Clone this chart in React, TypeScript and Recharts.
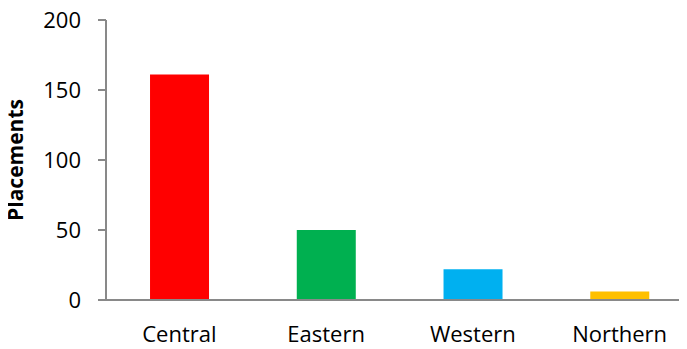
import { Bar, BarChart, Cell, XAxis, YAxis } from "recharts";

const regions = ["Central", "Eastern", "Western", "Northern"];
const placements = [161, 50, 22, 6];
const barColors = ["#FF0000", "#00B050", "#00B0F0", "#FFC000"];
const yTicks = [0, 50, 100, 150, 200];

const data = regions.map((name, i) => ({ name, value: placements[i] }));

const font = "'Open Sans', sans-serif";
const axisColor = "#898989";

function YLabel() {
  return (
    <text
      x={23}
      y={160}
      transform="rotate(-90, 23, 160)"
      textAnchor="middle"
      fontFamily={font}
      fontSize={21}
      fontWeight="bold"
      fill="#000"
    >
      Placements
    </text>
  );
}

export default function App() {
  return (
    <div style={{ margin: "-8px 0 0 -8px", width: 687, height: 349, overflow: "hidden", background: "#fff" }}>
      <BarChart
        width={700}
        height={349}
        data={data}
        margin={{ top: 20, right: 7, bottom: 0, left: 0 }}
        barCategoryGap="30%"
      >
        <XAxis
          dataKey="name"
          height={49}
          stroke={axisColor}
          strokeWidth={2}
          tickLine={false}
          tickSize={0}
          tickMargin={26}
          tick={{ fill: "#000", fontFamily: font, fontSize: 22 }}
        />
        <YAxis
          width={106}
          domain={[0, 200]}
          ticks={yTicks}
          interval={0}
          stroke={axisColor}
          strokeWidth={2}
          tickSize={8}
          tickMargin={17}
          tick={{ fill: "#000", fontFamily: font, fontSize: 22 }}
          label={<YLabel />}
        />
        <Bar dataKey="value" isAnimationActive={false}>
          {data.map((d, i) => (
            <Cell key={d.name} fill={barColors[i]} />
          ))}
        </Bar>
      </BarChart>
    </div>
  );
}
